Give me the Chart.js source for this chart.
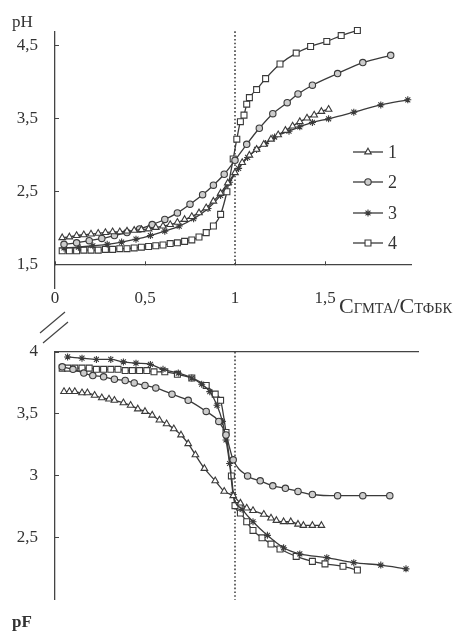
<!DOCTYPE html>
<html>
<head>
<meta charset="utf-8">
<script src="https://cdn.jsdelivr.net/npm/chart.js@4.4.1/dist/chart.umd.min.js"></script>
<style>
  html, body { margin: 0; padding: 0; background: #fff; }
  #wrap { position: relative; width: 465px; height: 631px; overflow: hidden;
          font-family: "Liberation Serif", "DejaVu Serif", serif; color: #333; }
  #top { position: absolute; left: 0; top: 0; width: 465px; height: 320px; }
  #bot { position: absolute; left: 0; top: 320px; width: 465px; height: 311px; }
  .lbl { position: absolute; font-size: 17px; line-height: 17px; }
  #xt { position: absolute; left: 339px; top: 295px; white-space: nowrap; font-size: 22px; line-height: 22px; }
  #xt span { font-size: 14.5px; }
</style>
</head>
<body>
<div id="wrap">
  <div id="top"><canvas id="phChart"></canvas></div>
  <div id="bot"><canvas id="pfChart"></canvas></div>
  <div class="lbl" style="left:12px;top:13px">pH</div>
  <div class="lbl" style="left:12px;top:613px;font-weight:bold">pF</div>
  <div id="xt">C<span>ГМТА</span>/C<span>ТФБК</span></div>
  <svg style="position:absolute;left:0;top:0" width="465" height="631">
    <line x1="40" y1="333" x2="65" y2="312" stroke="#444" stroke-width="1.2"/>
    <line x1="43" y1="343" x2="68" y2="322" stroke="#444" stroke-width="1.2"/>
  </svg>
</div>
<script>
// Отношение концентраций C(ГМТА)/C(ТФБК) и значения pH / pF для кривых 1-4
const seriesNames = ['1', '2', '3', '4'];
const equivX = 1;

const phX1 = [0.04,0.08,0.12,0.16,0.20,0.24,0.28,0.32,0.36,0.40,0.44,0.48,0.52,0.56,0.60,0.64,0.68,0.72,0.76,0.80,0.84,0.88,0.92,0.96,1.00,1.04,1.08,1.12,1.16,1.20,1.24,1.28,1.32,1.36,1.40,1.44,1.48,1.52];
const phY1 = [1.87,1.88,1.90,1.91,1.92,1.93,1.94,1.95,1.95,1.96,1.97,1.98,1.99,2.01,2.03,2.05,2.08,2.12,2.16,2.21,2.28,2.37,2.48,2.62,2.76,2.90,3.00,3.08,3.15,3.22,3.28,3.34,3.40,3.46,3.51,3.55,3.60,3.63];
const phX2 = [0.05,0.12,0.19,0.26,0.33,0.40,0.47,0.54,0.61,0.68,0.75,0.82,0.88,0.94,1.00,1.065,1.135,1.21,1.29,1.35,1.43,1.57,1.71,1.865];
const phY2 = [1.78,1.80,1.83,1.86,1.90,1.94,1.99,2.05,2.12,2.21,2.33,2.46,2.59,2.74,2.93,3.15,3.37,3.57,3.72,3.84,3.96,4.12,4.27,4.37];
const phX3 = [0.05,0.13,0.21,0.29,0.37,0.45,0.53,0.61,0.69,0.77,0.85,0.92,0.97,1.02,1.07,1.12,1.17,1.22,1.30,1.36,1.43,1.52,1.66,1.81,1.96];
const phY3 = [1.73,1.74,1.76,1.78,1.81,1.85,1.90,1.96,2.03,2.13,2.27,2.45,2.63,2.82,2.97,3.08,3.16,3.25,3.33,3.39,3.45,3.50,3.59,3.69,3.76];
const phX4 = [0.04,0.08,0.12,0.16,0.20,0.24,0.28,0.32,0.36,0.40,0.44,0.48,0.52,0.56,0.60,0.64,0.68,0.72,0.76,0.80,0.84,0.88,0.92,0.955,0.99,1.01,1.03,1.05,1.065,1.08,1.12,1.17,1.25,1.34,1.42,1.51,1.59,1.68];
const phY4 = [1.69,1.69,1.69,1.70,1.70,1.70,1.71,1.71,1.72,1.72,1.73,1.74,1.75,1.76,1.77,1.79,1.80,1.82,1.84,1.88,1.94,2.03,2.19,2.50,2.95,3.22,3.46,3.55,3.70,3.79,3.90,4.05,4.25,4.40,4.49,4.56,4.64,4.71];

const pfX1 = [0.05,0.08,0.11,0.15,0.18,0.22,0.26,0.30,0.33,0.38,0.42,0.46,0.50,0.54,0.58,0.62,0.66,0.70,0.74,0.78,0.83,0.89,0.94,0.99,1.03,1.065,1.10,1.16,1.20,1.23,1.27,1.31,1.35,1.38,1.43,1.48];
const pfY1 = [3.68,3.68,3.68,3.67,3.67,3.65,3.63,3.62,3.61,3.59,3.57,3.54,3.52,3.49,3.45,3.42,3.38,3.33,3.26,3.17,3.06,2.96,2.875,2.84,2.78,2.74,2.72,2.69,2.66,2.64,2.63,2.63,2.61,2.60,2.60,2.60];
const pfX2 = [0.04,0.10,0.16,0.21,0.27,0.33,0.39,0.44,0.50,0.56,0.65,0.74,0.84,0.91,0.95,0.99,1.07,1.14,1.21,1.28,1.35,1.43,1.57,1.71,1.86];
const pfY2 = [3.88,3.86,3.83,3.81,3.80,3.78,3.77,3.75,3.73,3.71,3.66,3.61,3.52,3.44,3.33,3.13,3.00,2.96,2.92,2.90,2.875,2.85,2.84,2.84,2.84];
const pfX3 = [0.07,0.15,0.23,0.31,0.38,0.45,0.53,0.60,0.685,0.76,0.815,0.86,0.90,0.93,0.95,0.97,0.99,1.04,1.10,1.18,1.27,1.36,1.51,1.66,1.81,1.95];
const pfY3 = [3.96,3.95,3.94,3.94,3.92,3.91,3.90,3.86,3.83,3.79,3.74,3.68,3.57,3.44,3.29,3.10,2.85,2.73,2.63,2.52,2.42,2.37,2.34,2.30,2.28,2.25];
const pfX4 = [0.04,0.07,0.11,0.15,0.19,0.23,0.27,0.31,0.35,0.39,0.43,0.47,0.51,0.55,0.61,0.68,0.76,0.84,0.89,0.92,0.95,0.98,1.00,1.03,1.065,1.10,1.15,1.20,1.25,1.34,1.43,1.50,1.60,1.68];
const pfY4 = [3.87,3.87,3.87,3.87,3.87,3.86,3.86,3.86,3.86,3.85,3.85,3.85,3.85,3.84,3.84,3.82,3.79,3.73,3.66,3.61,3.35,3.00,2.76,2.70,2.63,2.56,2.50,2.45,2.41,2.35,2.31,2.29,2.27,2.24];

const xTicks = [0, 0.5, 1, 1.5];
const phTicks = [1.5, 2.5, 3.5, 4.5];
const pfTicks = [2.5, 3, 3.5, 4];

const ink = '#3a3a3a';
const tickFont = { family: '"Liberation Serif", "DejaVu Serif", serif', size: 17 };
const markers = [
  { pointStyle: 'triangle', pointRadius: 3.8, pointBackgroundColor: '#fff' },
  { pointStyle: 'circle', pointRadius: 3.2, pointBackgroundColor: '#ccc' },
  { pointStyle: 'star', pointRadius: 3.5, pointBackgroundColor: '#fff' },
  { pointStyle: 'rect', pointRadius: 4.2, pointBackgroundColor: '#fff' }
];

const fmt = v => String(v).replace('.', ',');

function makeSeries(i, xs, ys) {
  return Object.assign({
    label: seriesNames[i],
    data: xs.map((x, k) => ({ x: x, y: ys[k] })),
    showLine: true,
    borderColor: ink,
    borderWidth: 1.3,
    pointBorderColor: ink,
    pointBorderWidth: 1.1,
    cubicInterpolationMode: 'monotone',
    clip: false
  }, markers[i]);
}

function dotted(y0, y1) {
  return {
    label: 'eq',
    data: [{ x: equivX, y: y0 }, { x: equivX, y: y1 }],
    showLine: true,
    borderColor: '#444',
    borderWidth: 1.6,
    borderDash: [1.6, 2.2],
    pointRadius: 0,
    clip: false
  };
}

function axisX(extra) {
  return Object.assign({
    type: 'linear',
    min: 0,
    afterFit: s => { s.height = 0; },
    afterBuildTicks: s => { s.ticks = xTicks.map(v => ({ value: v })); },
    grid: { drawOnChartArea: false, drawTicks: true, tickLength: -4, color: '#444' },
    border: { display: true, color: '#444', width: 1.3 },
    ticks: { padding: 28, font: tickFont, color: '#333', maxRotation: 0, callback: v => fmt(v) }
  }, extra);
}

function axisY(min, max, list) {
  return {
    type: 'linear',
    min: min,
    max: max,
    afterFit: s => { s.width = 55; },
    afterBuildTicks: s => { s.ticks = list.map(v => ({ value: v })); },
    grid: { drawOnChartArea: false, drawTicks: true, tickLength: -4, color: '#444' },
    border: { display: true, color: '#444', width: 1.3 },
    ticks: { padding: 21, font: tickFont, color: '#333', callback: v => fmt(v) }
  };
}

// легенда внутри верхнего графика
const legendPlugin = {
  id: 'innerLegend',
  afterDatasetsDraw(chart) {
    const ctx = chart.ctx;
    const rows = [152, 182, 213, 243];
    ctx.save();
    chart.data.datasets.slice(0, 4).forEach((ds, i) => {
      const y = rows[i];
      ctx.strokeStyle = ink;
      ctx.lineWidth = 1.3;
      ctx.beginPath();
      ctx.moveTo(353, y);
      ctx.lineTo(383, y);
      ctx.stroke();
      ctx.fillStyle = ds.pointBackgroundColor;
      ctx.lineWidth = 1.1;
      Chart.helpers.drawPoint(ctx, { pointStyle: ds.pointStyle, radius: ds.pointRadius, borderWidth: 1.1, rotation: 0 }, 368, y);
      ctx.fillStyle = '#333';
      ctx.font = '18px "Liberation Serif", serif';
      ctx.textAlign = 'left';
      ctx.textBaseline = 'middle';
      ctx.fillText(ds.label, 388, y + 1);
    });
    ctx.restore();
  }
};

new Chart(document.getElementById('phChart').getContext('2d'), {
  type: 'scatter',
  data: {
    datasets: [
      makeSeries(0, phX1, phY1),
      makeSeries(1, phX2, phY2),
      makeSeries(2, phX3, phY3),
      makeSeries(3, phX4, phY4),
      dotted(1.5, 4.72)
    ]
  },
  options: {
    responsive: true,
    maintainAspectRatio: false,
    animation: false,
    layout: { padding: { left: 0, right: 53.6, top: 22, bottom: 20 } },
    plugins: { legend: { display: false }, tooltip: { enabled: false } },
    scales: {
      x: axisX({ max: 1.98, position: { y: 1.5 } }),
      y: axisY(1.17, 4.7, phTicks)
    }
  },
  plugins: [legendPlugin]
});

new Chart(document.getElementById('pfChart').getContext('2d'), {
  type: 'scatter',
  data: {
    datasets: [
      makeSeries(0, pfX1, pfY1),
      makeSeries(1, pfX2, pfY2),
      makeSeries(2, pfX3, pfY3),
      makeSeries(3, pfX4, pfY4),
      dotted(4, 2.0)
    ]
  },
  options: {
    responsive: true,
    maintainAspectRatio: false,
    animation: false,
    layout: { padding: { left: 0, right: 46.4, top: 32, bottom: 8 } },
    plugins: { legend: { display: false }, tooltip: { enabled: false } },
    scales: {
      x: axisX({ max: 2.02, position: 'top', ticks: { display: false }, grid: { drawOnChartArea: false, drawTicks: false } }),
      y: axisY(2.0, 4.0, pfTicks)
    }
  }
});
</script>
</body>
</html>
